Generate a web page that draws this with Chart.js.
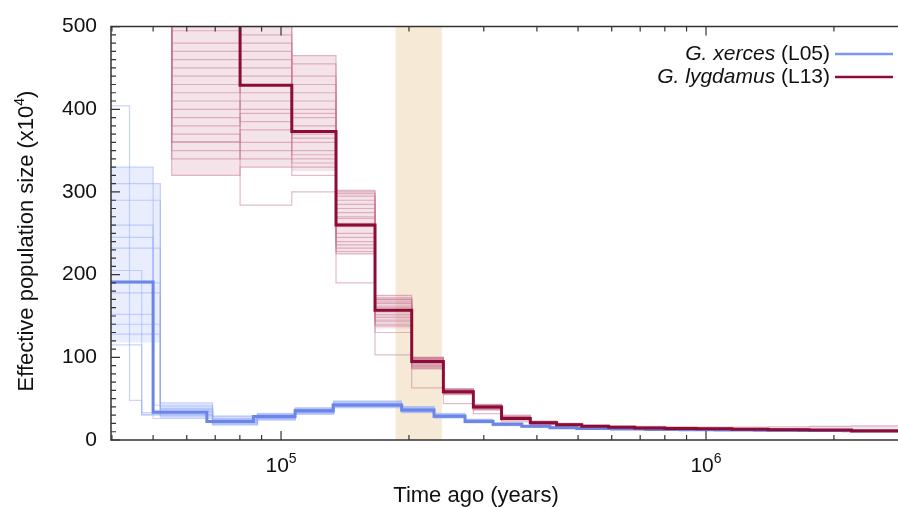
<!DOCTYPE html>
<html>
<head>
<meta charset="utf-8">
<script src="https://cdn.jsdelivr.net/npm/chart.js@4.4.1/dist/chart.umd.min.js"></script>
<style>
  html, body { margin: 0; padding: 0; background: #fff; }
  #psmc { display: block; }
</style>
</head>
<body>
<canvas id="psmc" width="898" height="507"></canvas>
<script>
// PSMC curves: step start time (years ago) and Ne (x10^4)
const xercesTimes = [39800, 50000, 66900, 86100, 107900, 132600, 192300, 229100, 271000, 315500, 368600, 429300, 496500, 600000, 720000, 870000, 1050000, 1300000, 1650000, 2100000, 2830000];
const xercesNe    = [191, 33.5, 22.5, 28.4, 35.5, 42.3, 36.3, 28.8, 22.5, 19, 16.6, 14.8, 13.9, 13.3, 12.8, 12.4, 12.1, 11.8, 11.5, 11.2, 11];

const lygdamusTimes = [39800, 80100, 106000, 134700, 166400, 203000, 241000, 283500, 330300, 386000, 445000, 510000, 590000, 680000, 800000, 950000, 1150000, 1400000, 1750000, 2200000, 2830000];
const lygdamusNe    = [600, 429, 373, 260, 157, 95, 58.5, 40, 26, 21, 18.5, 16.5, 15.5, 14.5, 14, 13.5, 13, 12.5, 12, 11, 10.5];

// bootstrap replicates
const xercesBootTimes = [39800, 44000, 47000, 50000, 52000, 69000, 88000, 108000, 133000, 192000, 229000, 271000, 315000, 369000, 429000, 497000, 600000, 720000, 870000, 1050000, 1300000, 1650000, 2100000, 2830000];
const xercesBoot = [
  [404, 48, 30, 30, 30, 20, 26, 33, 41, 35, 28, 22, 18.5, 16, 14.5, 13.8, 13.2, 12.8, 12.4, 12.1, 11.8, 11.5, 11.2, 11],
  [330, 330, 330, 42, 42, 28, 31, 38, 47, 40, 32, 25, 20.5, 17.5, 15.5, 14.5, 14, 13.5, 13, 12.6, 12.3, 12, 11.8, 11.6],
  [310, 310, 310, 310, 40, 26, 30, 37, 44, 38, 30, 23.5, 19.5, 17, 15.2, 14.3, 13.7, 13.2, 12.8, 12.4, 12.1, 11.8, 11.5, 11.3],
  [290, 290, 290, 290, 38, 25, 30, 36, 44, 38, 30, 24, 20, 17, 15.2, 14.3, 13.7, 13.2, 12.8, 12.4, 12.1, 11.8, 11.5, 11.3],
  [260, 260, 260, 36, 36, 23, 27, 34, 42, 36, 29, 23, 19.5, 16.8, 15, 14.1, 13.5, 13, 12.6, 12.2, 11.9, 11.6, 11.3, 11.1],
  [245, 245, 245, 34, 34, 23, 27, 34, 42, 36, 29, 22.8, 19, 16.7, 14.9, 14.1, 13.5, 13, 12.6, 12.2, 11.9, 11.6, 11.3, 11.1],
  [232, 232, 232, 232, 28, 19, 25, 32, 40, 34, 27, 21, 18, 16, 14.2, 13.5, 13, 12.6, 12.2, 11.9, 11.6, 11.3, 11, 10.8],
  [205, 205, 33, 33, 33, 22, 28, 35, 43, 37, 29, 22.5, 19, 16.5, 14.8, 14, 13.4, 13, 12.6, 12.2, 11.9, 11.6, 11.3, 11.1],
  [190, 190, 190, 190, 30, 21, 26, 33, 41, 35, 28, 22, 18.6, 16.3, 14.6, 13.8, 13.3, 12.9, 12.5, 12.1, 11.8, 11.5, 11.2, 11],
  [178, 178, 178, 178, 45, 29, 32, 39, 46, 40, 31, 24.5, 20, 17.5, 15.6, 14.6, 14, 13.5, 13.1, 12.7, 12.4, 12.1, 11.8, 11.6],
  [152, 152, 152, 26, 26, 18, 24, 31, 39, 33, 27, 21, 17.5, 15.5, 14, 13.3, 12.8, 12.4, 12, 11.7, 11.4, 11.1, 10.8, 10.6],
  [140, 140, 140, 140, 37, 25, 29, 36, 43, 37, 29.5, 23, 19.2, 16.8, 15, 14.2, 13.6, 13.1, 12.7, 12.3, 12, 11.7, 11.4, 11.2],
  [128, 128, 128, 128, 35, 24, 29, 37, 45, 39, 30, 23.5, 19.5, 17, 15, 14.2, 13.6, 13.1, 12.7, 12.3, 12, 11.7, 11.4, 11.2],
  [115, 115, 31, 31, 31, 21, 26, 33, 41, 35, 28, 22, 18.5, 16.2, 14.6, 13.8, 13.3, 12.9, 12.5, 12.1, 11.8, 11.5, 11.2, 11]
];
const xercesBootHigh = [330, 330, 330, 310, 45, 30, 33, 40, 48, 41, 33, 26, 21, 18, 16, 15, 14.3, 13.8, 13.3, 12.9, 12.6, 12.3, 12, 11.8];
const xercesBootLow  = [118, 118, 118, 118, 26, 18, 24, 31, 38, 33, 26, 20.5, 17.2, 15.2, 13.8, 13.1, 12.6, 12.2, 11.8, 11.5, 11.2, 10.9, 10.6, 10.4];

const lygdamusBootTimes = [39800, 55300, 80100, 106000, 134700, 166400, 203000, 241000, 283500, 330300, 386000, 445000, 510000, 590000, 680000, 800000, 950000, 1150000, 1400000, 1750000, 2200000, 2830000];
const lygdamusBoot = [
  [650, 480, 500, 440, 300, 175, 100, 62, 43, 30, 23, 20, 18, 17, 16.5, 16, 15.5, 15.5, 16, 16.5, 17, 17.5],
  [620, 460, 470, 420, 290, 168, 98, 61, 42, 28, 22, 19.5, 17.5, 16.3, 15.5, 14.8, 14.3, 13.8, 13.3, 12.6, 12, 11.5],
  [700, 440, 450, 400, 280, 165, 97, 60, 41, 27.5, 21.5, 19, 17, 16, 15, 14.5, 14, 13.5, 13, 12.3, 11.6, 11.1],
  [600, 420, 430, 390, 270, 160, 96, 59, 40, 27, 21, 18.7, 16.8, 15.7, 14.8, 14.2, 13.7, 13.2, 12.7, 12, 11.3, 10.8],
  [680, 400, 410, 370, 262, 155, 94, 58, 39.5, 26, 20.5, 18.3, 16.4, 15.4, 14.5, 14, 13.5, 13, 12.5, 11.8, 11, 10.5],
  [640, 380, 395, 360, 250, 150, 92, 57, 39, 25.5, 20.5, 18, 16.2, 15.2, 14.3, 13.8, 13.3, 12.8, 12.3, 11.6, 10.9, 10.4],
  [660, 360, 375, 350, 240, 145, 90, 57, 38, 25, 20, 18, 16, 15, 14.2, 13.6, 13.1, 12.6, 12.1, 11.4, 10.7, 10.2],
  [610, 340, 360, 340, 232, 140, 88, 56, 37, 24.5, 19.5, 17.5, 15.8, 14.8, 14, 13.5, 13, 12.5, 12, 11.3, 10.6, 10.1],
  [590, 320, 330, 320, 225, 130, 86, 55, 36, 24, 19.5, 17.5, 15.7, 14.7, 14, 13.4, 12.9, 12.4, 11.9, 11.2, 10.5, 10],
  [720, 520, 284, 300, 190, 103, 63, 44, 32, 22, 19, 17, 15.5, 14.5, 13.8, 13.2, 12.8, 12.3, 11.8, 11.1, 10.4, 9.9],
  [560, 361, 510, 465, 302, 172, 99, 62, 42.5, 29, 22.5, 19.5, 17.2, 16, 15.2, 14.6, 14.1, 13.6, 13.1, 12.4, 11.7, 11.2],
  [630, 500, 490, 455, 295, 170, 100, 61, 41.5, 28, 22, 19, 17, 15.8, 15, 14.4, 13.9, 13.4, 12.9, 12.2, 11.5, 11],
  [610, 495, 480, 430, 285, 162, 97, 60, 41, 27, 21.5, 18.8, 16.9, 15.8, 15, 14.3, 13.8, 13.3, 12.8, 12.1, 11.4, 10.9],
  [670, 470, 460, 410, 275, 158, 95, 59, 40.5, 26.5, 21, 18.5, 16.6, 15.5, 14.6, 14.1, 13.6, 13.1, 12.6, 11.9, 11.2, 10.7],
  [640, 450, 440, 380, 268, 152, 93, 58.5, 39.5, 26, 20.8, 18.3, 16.4, 15.3, 14.4, 13.9, 13.4, 12.9, 12.4, 11.7, 11, 10.5],
  [700, 430, 420, 395, 258, 148, 91, 57.5, 39, 25.5, 20.5, 18.1, 16.2, 15.1, 14.3, 13.7, 13.2, 12.7, 12.2, 11.5, 10.8, 10.3],
  [620, 410, 400, 365, 245, 143, 89, 56.5, 38.5, 25, 20.2, 17.8, 16, 15, 14.1, 13.6, 13.1, 12.6, 12.1, 11.4, 10.7, 10.2],
  [660, 390, 385, 345, 236, 138, 87, 56, 37.5, 24.8, 19.8, 17.6, 15.9, 14.9, 14, 13.5, 13, 12.5, 12, 11.3, 10.6, 10.1],
  [600, 370, 350, 335, 228, 170, 99, 61, 42, 28.5, 22, 19.2, 17.1, 15.9, 15, 14.4, 13.9, 13.4, 12.9, 12.2, 11.5, 11],
  [690, 350, 340, 330, 298, 166, 98, 60.5, 41.5, 27.8, 21.8, 19, 17, 15.8, 14.9, 14.3, 13.8, 13.3, 12.8, 12.1, 11.4, 10.9]
];
const lygdamusBootHigh = [700, 520, 520, 465, 302, 175, 100, 62, 43, 30, 23, 20, 18, 17, 16.5, 16, 15.5, 15.5, 16, 16.5, 17, 17.5];
const lygdamusBootLow  = [700, 320, 330, 325, 225, 135, 86, 55, 36, 24, 19.5, 17.5, 15.7, 14.7, 14, 13.4, 12.9, 12.4, 11.9, 11.2, 10.5, 10];

// highlighted time window
const bandRange = [186000, 239000];

const xTickMajor = [1e5, 1e6];
const xTickMinor = [4e4, 5e4, 6e4, 7e4, 8e4, 9e4, 2e5, 3e5, 4e5, 5e5, 6e5, 7e5, 8e5, 9e5, 2e6];

const BLUE = '#6b86e6';
const RED = '#8c0c36';
const FONT = "'Liberation Sans', Arial, sans-serif";

const toPts = (times, vals) => times.map((t, i) => ({ x: t, y: vals[i] }));

const line = (data, color, width) => ({
  data, borderColor: color, borderWidth: width, stepped: true,
  pointRadius: 0, fill: false, backgroundColor: color
});

const datasets = [
  line(toPts(lygdamusTimes, lygdamusNe), RED, 3),
  line(toPts(xercesTimes, xercesNe), BLUE, 3)
];
lygdamusBoot.forEach(v => datasets.push(line(toPts(lygdamusBootTimes, v), 'rgba(200,120,150,0.5)', 1.2)));
xercesBoot.forEach(v => datasets.push(line(toPts(xercesBootTimes, v), 'rgba(150,172,250,0.5)', 1.2)));
datasets.push(Object.assign(line(toPts(lygdamusBootTimes, lygdamusBootHigh), 'rgba(0,0,0,0)', 0), { fill: '+1', backgroundColor: 'rgba(222,168,188,0.32)' }));
datasets.push(line(toPts(lygdamusBootTimes, lygdamusBootLow), 'rgba(0,0,0,0)', 0));
datasets.push(Object.assign(line(toPts(xercesBootTimes, xercesBootHigh), 'rgba(0,0,0,0)', 0), { fill: '+1', backgroundColor: 'rgba(175,194,252,0.28)' }));
datasets.push(line(toPts(xercesBootTimes, xercesBootLow), 'rgba(0,0,0,0)', 0));

const decorations = {
  id: 'decorations',
  beforeDatasetsDraw(chart) {
    const { ctx, chartArea: a, scales: { x } } = chart;
    const x0 = x.getPixelForValue(bandRange[0]);
    const x1 = x.getPixelForValue(bandRange[1]);
    ctx.save();
    ctx.fillStyle = '#f6ead6';
    ctx.fillRect(x0, a.top, x1 - x0, a.bottom - a.top);
    ctx.restore();
  },
  afterDatasetsDraw(chart) {
    const { ctx, chartArea: a, scales: { x, y } } = chart;
    ctx.save();
    ctx.strokeStyle = '#333';
    ctx.lineWidth = 1.5;
    ctx.beginPath();
    ctx.moveTo(a.right, a.top); ctx.lineTo(a.left, a.top);
    ctx.lineTo(a.left, a.bottom); ctx.lineTo(a.right, a.bottom);
    ctx.stroke();
    ctx.lineWidth = 1.2;
    ctx.beginPath();
    const xt = (v, len) => {
      const px = x.getPixelForValue(v);
      ctx.moveTo(px, a.bottom); ctx.lineTo(px, a.bottom - len);
      ctx.moveTo(px, a.top); ctx.lineTo(px, a.top + len);
    };
    xTickMajor.forEach(v => xt(v, 9));
    xTickMinor.forEach(v => xt(v, 5));
    for (let v = 0; v <= 500; v += 10) {
      const py = y.getPixelForValue(v);
      ctx.moveTo(a.left, py); ctx.lineTo(a.left + (v % 100 === 0 ? 9 : 5), py);
    }
    ctx.stroke();
    ctx.restore();
  },
  afterDraw(chart) {
    const { ctx, scales: { x } } = chart;
    ctx.save();
    ctx.fillStyle = '#111';
    // x tick labels 10^n
    xTickMajor.forEach(v => {
      const exp = String(Math.round(Math.log10(v)));
      ctx.font = '21px ' + FONT;
      const wb = ctx.measureText('10').width;
      ctx.font = '14px ' + FONT;
      const we = ctx.measureText(exp).width;
      const left = x.getPixelForValue(v) - (wb + we) / 2;
      ctx.textAlign = 'left';
      ctx.textBaseline = 'alphabetic';
      ctx.font = '21px ' + FONT;
      ctx.fillText('10', left, 472);
      ctx.font = '14px ' + FONT;
      ctx.fillText(exp, left + wb, 463);
    });
    // x title
    ctx.font = '22px ' + FONT;
    ctx.textAlign = 'center';
    ctx.fillText('Time ago (years)', 476, 502);
    // y title with superscript
    const t1 = 'Effective population size (x10', t2 = '4', t3 = ')';
    ctx.font = '22px ' + FONT;
    const w1 = ctx.measureText(t1).width, w3 = ctx.measureText(t3).width;
    ctx.font = '14px ' + FONT;
    const w2 = ctx.measureText(t2).width;
    ctx.translate(33, 241);
    ctx.rotate(-Math.PI / 2);
    const s = -(w1 + w2 + w3) / 2;
    ctx.textAlign = 'left';
    ctx.font = '22px ' + FONT;
    ctx.fillText(t1, s, 0);
    ctx.fillText(t3, s + w1 + w2, 0);
    ctx.font = '14px ' + FONT;
    ctx.fillText(t2, s + w1, -9);
    ctx.setTransform(1, 0, 0, 1, 0, 0);
    // legend
    const entries = [
      { it: 'G. xerces', rest: ' (L05)', color: '#7d96ee', yc: 54 },
      { it: 'G. lygdamus', rest: ' (L13)', color: RED, yc: 77 }
    ];
    entries.forEach(e => {
      ctx.textAlign = 'right';
      ctx.textBaseline = 'middle';
      ctx.font = '21px ' + FONT;
      ctx.fillText(e.rest, 830, e.yc);
      const wr = ctx.measureText(e.rest).width;
      ctx.font = 'italic 21px ' + FONT;
      ctx.fillText(e.it, 830 - wr, e.yc);
      ctx.strokeStyle = e.color;
      ctx.lineWidth = 2.5;
      ctx.beginPath();
      ctx.moveTo(835, e.yc); ctx.lineTo(893, e.yc);
      ctx.stroke();
    });
    ctx.restore();
  }
};

new Chart(document.getElementById('psmc'), {
  type: 'line',
  data: { datasets },
  options: {
    responsive: false,
    animation: false,
    devicePixelRatio: 1,
    layout: { padding: { top: 18, right: 0, left: 0, bottom: 0 } },
    plugins: { legend: { display: false }, tooltip: { enabled: false } },
    scales: {
      x: {
        type: 'logarithmic',
        min: 39800,
        max: 2830000,
        grid: { display: false, drawTicks: false },
        border: { display: false },
        ticks: { display: false },
        afterFit: s => { s.height = 67; }
      },
      y: {
        type: 'linear',
        min: 0,
        max: 500,
        grid: { display: false, drawTicks: false },
        border: { display: false },
        ticks: { stepSize: 100, padding: 14, color: '#111', font: { size: 21, family: FONT } },
        afterFit: s => { s.width = 111; }
      }
    }
  },
  plugins: [decorations]
});
</script>
</body>
</html>
